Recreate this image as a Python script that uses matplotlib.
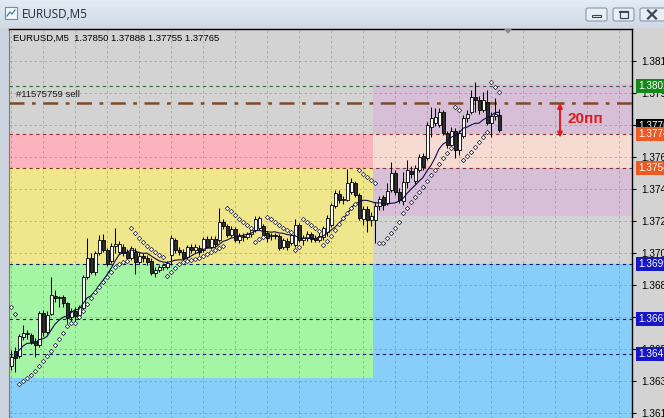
import numpy as np
import pandas as pd
import matplotlib
matplotlib.use("Agg")
import matplotlib.pyplot as plt
from matplotlib.patches import Rectangle, FancyBboxPatch, Polygon
from matplotlib.colors import LinearSegmentedColormap
from matplotlib import transforms

plt.rcParams['font.family'] = ['Liberation Sans', 'DejaVu Sans']

# ---------------------------------------------------------------- data
SYMBOL = "EURUSD,M5"
ORDER_TICKET = 11575759
ORDER_SIDE = "sell"

opens = [
    1.36401, 1.36488, 1.36459, 1.36569, 1.36587, 1.36581, 1.36546, 1.36523, 1.36708, 1.36598,
    1.36702, 1.36806, 1.36795, 1.36800, 1.36766, 1.36684, 1.36719, 1.36696, 1.36737, 1.36916,
    1.37026, 1.36944, 1.37055, 1.37130, 1.37072, 1.37008, 1.37095, 1.37060, 1.37089, 1.37060,
    1.37026, 1.37060, 1.37002, 1.37037, 1.37026, 1.37008, 1.36939, 1.36956, 1.36973, 1.36973,
    1.37043, 1.37130, 1.37072, 1.37060, 1.37031, 1.37089, 1.37072, 1.37084, 1.37072, 1.37136,
    1.37089, 1.37136, 1.37130, 1.37233, 1.37211, 1.37159, 1.37194, 1.37130, 1.37153, 1.37147,
    1.37165, 1.37188, 1.37200, 1.37211, 1.37170, 1.37153, 1.37159, 1.37153, 1.37089, 1.37124,
    1.37113, 1.37101, 1.37217, 1.37130, 1.37142, 1.37165, 1.37142, 1.37130, 1.37147, 1.37176,
    1.37217, 1.37326, 1.37396, 1.37361, 1.37361, 1.37407, 1.37459, 1.37390, 1.37251, 1.37309,
    1.37245, 1.37245, 1.37326, 1.37378, 1.37344, 1.37419, 1.37517, 1.37407, 1.37355, 1.37465,
    1.37529, 1.37471, 1.37534, 1.37615, 1.37604, 1.37783, 1.37806, 1.37795, 1.37870, 1.37748,
    1.37679, 1.37760, 1.37650, 1.37731, 1.37835, 1.37870, 1.37956, 1.37939, 1.37881, 1.37927,
    1.37806, 1.37846, 1.37850,
]
highs = [
    1.36494, 1.36511, 1.36587, 1.36639, 1.36610, 1.36593, 1.36564, 1.36719, 1.36725, 1.36719,
    1.36916, 1.36841, 1.36806, 1.36812, 1.36771, 1.36737, 1.36742, 1.36754, 1.36928, 1.37142,
    1.37055, 1.37066, 1.37159, 1.37165, 1.37084, 1.37113, 1.37200, 1.37124, 1.37107, 1.37078,
    1.37095, 1.37084, 1.37060, 1.37055, 1.37043, 1.37026, 1.36973, 1.36985, 1.36997, 1.37008,
    1.37159, 1.37142, 1.37089, 1.37078, 1.37101, 1.37107, 1.37107, 1.37101, 1.37147, 1.37153,
    1.37153, 1.37153, 1.37315, 1.37251, 1.37222, 1.37211, 1.37205, 1.37170, 1.37170, 1.37176,
    1.37205, 1.37268, 1.37268, 1.37222, 1.37182, 1.37170, 1.37170, 1.37165, 1.37142, 1.37142,
    1.37170, 1.37251, 1.37228, 1.37159, 1.37182, 1.37176, 1.37159, 1.37170, 1.37211, 1.37274,
    1.37344, 1.37419, 1.37419, 1.37384, 1.37540, 1.37488, 1.37471, 1.37402, 1.37326, 1.37326,
    1.37292, 1.37349, 1.37384, 1.37390, 1.37459, 1.37581, 1.37534, 1.37430, 1.37523, 1.37592,
    1.37557, 1.37563, 1.37627, 1.37633, 1.37812, 1.37899, 1.37893, 1.37893, 1.37881, 1.37760,
    1.37783, 1.37777, 1.37766, 1.37852, 1.37881, 1.37997, 1.38043, 1.37962, 1.37985, 1.37997,
    1.37870, 1.37951, 1.37888,
]
lows = [
    1.36378, 1.36366, 1.36448, 1.36552, 1.36558, 1.36529, 1.36453, 1.36511, 1.36575, 1.36587,
    1.36696, 1.36771, 1.36742, 1.36742, 1.36650, 1.36650, 1.36655, 1.36684, 1.36731, 1.36905,
    1.36933, 1.36928, 1.37043, 1.37060, 1.36979, 1.36997, 1.37055, 1.37049, 1.37037, 1.37014,
    1.37014, 1.36933, 1.36991, 1.37002, 1.36985, 1.36928, 1.36916, 1.36944, 1.36956, 1.36962,
    1.36985, 1.37055, 1.37043, 1.37014, 1.37020, 1.37055, 1.37055, 1.37043, 1.37060, 1.37084,
    1.37078, 1.37089, 1.37118, 1.37194, 1.37147, 1.37147, 1.37118, 1.37113, 1.37124, 1.37136,
    1.37147, 1.37176, 1.37188, 1.37147, 1.37118, 1.37130, 1.37136, 1.37072, 1.37078, 1.37072,
    1.37101, 1.37089, 1.37118, 1.37101, 1.37124, 1.37118, 1.37118, 1.37118, 1.37130, 1.37153,
    1.37205, 1.37315, 1.37344, 1.37338, 1.37355, 1.37396, 1.37378, 1.37245, 1.37217, 1.37176,
    1.37211, 1.37113, 1.37303, 1.37303, 1.37332, 1.37407, 1.37390, 1.37344, 1.37332, 1.37430,
    1.37488, 1.37454, 1.37523, 1.37534, 1.37592, 1.37725, 1.37789, 1.37783, 1.37737, 1.37662,
    1.37667, 1.37604, 1.37621, 1.37719, 1.37812, 1.37858, 1.37870, 1.37858, 1.37870, 1.37795,
    1.37725, 1.37823, 1.37755,
]
closes = [
    1.36453, 1.36448, 1.36575, 1.36593, 1.36593, 1.36540, 1.36523, 1.36708, 1.36598, 1.36696,
    1.36812, 1.36795, 1.36800, 1.36766, 1.36679, 1.36719, 1.36690, 1.36742, 1.36916, 1.37026,
    1.36944, 1.37055, 1.37130, 1.37072, 1.36991, 1.37095, 1.37107, 1.37107, 1.37055, 1.37026,
    1.37084, 1.37002, 1.37037, 1.37026, 1.37002, 1.36939, 1.36956, 1.36973, 1.36985, 1.36997,
    1.37142, 1.37072, 1.37060, 1.37026, 1.37089, 1.37072, 1.37089, 1.37060, 1.37136, 1.37089,
    1.37136, 1.37107, 1.37233, 1.37211, 1.37159, 1.37194, 1.37130, 1.37153, 1.37147, 1.37165,
    1.37188, 1.37251, 1.37257, 1.37159, 1.37142, 1.37159, 1.37153, 1.37084, 1.37130, 1.37089,
    1.37159, 1.37217, 1.37130, 1.37142, 1.37165, 1.37136, 1.37130, 1.37153, 1.37200, 1.37257,
    1.37332, 1.37402, 1.37361, 1.37367, 1.37459, 1.37465, 1.37390, 1.37257, 1.37309, 1.37245,
    1.37268, 1.37326, 1.37367, 1.37332, 1.37413, 1.37517, 1.37407, 1.37361, 1.37465, 1.37534,
    1.37511, 1.37546, 1.37610, 1.37552, 1.37795, 1.37835, 1.37841, 1.37870, 1.37748, 1.37679,
    1.37760, 1.37650, 1.37748, 1.37835, 1.37858, 1.37956, 1.37939, 1.37881, 1.37939, 1.37806,
    1.37846, 1.37858, 1.37765,
]

# Parabolic SAR dots, one per bar
sar_values = [
    1.36742, 1.36702, 1.36298, 1.36315, 1.36333, 1.36350, 1.36372, 1.36401, 1.36430, 1.36459,
    1.36488, 1.36523, 1.36558, 1.36593, 1.36633, 1.36650, 1.36650, 1.36684, 1.36719, 1.36760,
    1.36795, 1.36829, 1.36858, 1.36887, 1.36916, 1.36944, 1.36973, 1.36991, 1.37002, 1.37008,
    1.37200, 1.37170, 1.37142, 1.37118, 1.37095, 1.37078, 1.37060, 1.37043, 1.37031, 1.36922,
    1.36944, 1.36967, 1.36991, 1.37002, 1.37008, 1.37014, 1.37020, 1.37026, 1.37037, 1.37049,
    1.37060, 1.37072, 1.37084, 1.37095, 1.37315, 1.37297, 1.37274, 1.37251, 1.37233, 1.37217,
    1.37200, 1.37118, 1.37136, 1.37147, 1.37262, 1.37251, 1.37233, 1.37217, 1.37200, 1.37188,
    1.37176, 1.37072, 1.37089, 1.37251, 1.37233, 1.37217, 1.37200, 1.37182, 1.37101, 1.37124,
    1.37153, 1.37188, 1.37222, 1.37257, 1.37286, 1.37315, 1.37338, 1.37534, 1.37511, 1.37494,
    1.37477, 1.37459, 1.37113, 1.37113, 1.37142, 1.37170, 1.37200, 1.37233, 1.37286, 1.37315,
    1.37349, 1.37378, 1.37407, 1.37436, 1.37471, 1.37506, 1.37534, 1.37569, 1.37604, 1.37633,
    1.37662, 1.37899, 1.37881, 1.37592, 1.37615, 1.37638, 1.37667, 1.37696, 1.37725, 1.37754,
    1.38043, 1.38014, 1.37985,
]

MA_PERIOD = 10

# price scale ticks
price_ticks = [1.36130, 1.36315, 1.36500, 1.36685, 1.36870, 1.37055,
               1.37240, 1.37425, 1.37610, 1.37795, 1.37980, 1.38165]

# horizontal levels
tp_level = 1.38020
order_price = 1.37922
red_levels = [1.37740, 1.37546]
blue_levels = [1.36991, 1.36676, 1.36471]
pips_span = 0.0020
pips_label = "20пп"

# zone boxes (price bounds)
zone_split = 90.5
purple_zone = (1.37269, 1.38031)
green_bottom = 1.36332

o = np.array(opens); h = np.array(highs); l = np.array(lows); c = np.array(closes)
idx = np.arange(len(c))
ma = pd.Series(c).rolling(MA_PERIOD, min_periods=1).mean().values

# ---------------------------------------------------------------- figure
W, H = 664, 418
TOP = 29
fig = plt.figure(figsize=(W / 100, H / 100), dpi=100)
fig.patch.set_facecolor('#d3d3d3')

# window caption bar
tb = fig.add_axes([0, 1 - 28 / H, 1, 28 / H])
cap_cmap = LinearSegmentedColormap.from_list('cap', ['#e3ebf4', '#cfdae6'])
tb.imshow(np.linspace(0, 1, 28)[:, None], aspect='auto', cmap=cap_cmap,
          extent=[0, W, 28, 0])
tb.set_xlim(0, W); tb.set_ylim(28, 0); tb.axis('off')
tb.add_patch(Rectangle((5, 7), 12, 12, fc='#f4f8fc', ec='#6a8bb0', lw=0.8))
tb.plot([7, 10, 12, 15], [16, 12, 14, 10], color='#3a7ac0', lw=0.9)
tb.text(22, 14.5, SYMBOL, fontsize=8.5, color='#1e2a38', va='center',
        family=['Open Sans', 'DejaVu Sans'])
for x0, w in [(586, 21), (613, 21), (640, 30)]:
    tb.add_patch(FancyBboxPatch((x0, 8), w, 13, boxstyle='round,pad=0,rounding_size=2',
                                fc='#e9eef4', ec='#8797aa', lw=0.8))
tb.add_patch(Rectangle((592, 15), 9, 2.2, fc='none', ec='#3c4858', lw=0.8))
tb.add_patch(Rectangle((620, 10.5), 8, 7.5, fc='none', ec='#3c4858', lw=0.9))
tb.plot([620, 628], [11.5, 11.5], color='#3c4858', lw=1.4)
tb.plot([648, 656], [10.5, 18.5], color='#3c4858', lw=1.6)
tb.plot([648, 656], [18.5, 10.5], color='#3c4858', lw=1.6)

# left window frame
frame = fig.add_axes([0, 0, 8 / W, (H - 28) / H])
frame.set_facecolor('#cbd4de'); frame.set_xticks([]); frame.set_yticks([])
for s in frame.spines.values():
    s.set_visible(False)

# main chart
ax = fig.add_axes([9 / W, 0, (632 - 9) / W, (H - TOP) / H])
PX = 0.0000578                       # price units per pixel on this chart
ax.set_xlim(-0.5, -0.5 + (632 - 9) / 4)
ax.set_ylim(price_ticks[0] - (H - 413) * PX, price_ticks[0] + (413 - TOP) * PX)
ax.set_facecolor('#d3d3d3')
xr = ax.get_xlim()[1] + 5
yb = ax.get_ylim()[0] - 0.001

def box(x0, x1, y0, y1, col):
    ax.add_patch(Rectangle((x0, y0), x1 - x0, y1 - y0, fc=col, ec='none', zorder=0))

box(-1, xr, yb, blue_levels[0], '#87cefa')
box(-1, zone_split, green_bottom, blue_levels[0], '#a4f5a4')
box(-1, zone_split, red_levels[1], blue_levels[0], '#f0e68c')
box(-1, zone_split, red_levels[1], red_levels[0], '#fdb3bd')
box(zone_split, xr, purple_zone[0], purple_zone[1], '#d8bfd8')
box(zone_split, xr, red_levels[1], red_levels[0], '#f6dbd2')

# grid
for p in price_ticks:
    ax.axhline(p, color='#555555', alpha=0.35, lw=0.6, dashes=(3, 3), zorder=1)
for k in range(0, 20):
    ax.axvline(8 * k, color='#555555', alpha=0.35, lw=0.6, dashes=(3, 3), zorder=1)

# level lines
ax.axhline(tp_level, color='#2f6a3a', lw=0.8, dashes=(3, 3), zorder=2)
for p in red_levels:
    ax.axhline(p, color='#8a3030', lw=0.8, dashes=(3, 3), zorder=2)
for p in blue_levels:
    ax.axhline(p, color='#14145a', lw=0.8, dashes=(3, 3), zorder=2)
ax.axhline(order_price, color='#7d4b2a', lw=1.8, dashes=(6, 3, 1.5, 3), zorder=3)
ax.annotate(f"#{ORDER_TICKET} {ORDER_SIDE}", xy=(1.25, order_price),
            xytext=(0, 2.5), textcoords='offset points', fontsize=6.8,
            color='#1a1a1a', va='bottom', ha='left', zorder=4)

# candles
up = c >= o
ax.vlines(idx, l, h, color='black', lw=0.75, zorder=5)
blo = np.minimum(o, c)
bh = np.maximum(np.abs(c - o), 0.000012)
ax.bar(idx[up], bh[up], bottom=blo[up], width=0.75, color='white',
       edgecolor='black', linewidth=0.6, zorder=6)
ax.bar(idx[~up], bh[~up], bottom=blo[~up], width=0.75, color='#2e2e2e',
       edgecolor='black', linewidth=0.6, zorder=6)

# indicators
ax.plot(idx, ma, color='#0c0c4a', lw=0.8, zorder=7)
ax.scatter(idx, sar_values, marker='D', s=5, facecolor='white', edgecolor='#1c1c3c',
           linewidths=0.5, zorder=8)

# pip distance marker
ax.annotate('', xy=(137.25, order_price - pips_span), xytext=(137.25, order_price),
            arrowprops=dict(arrowstyle='<|-|>', color='#e81818', lw=1.4,
                            mutation_scale=7, shrinkA=0, shrinkB=0), zorder=9)
ax.text(139, order_price - pips_span / 2 + 0.00006, pips_label, color='#e81818',
        fontsize=11, fontweight='bold', va='center', ha='left', zorder=9)

# axes frame and price scale
ax.spines['bottom'].set_visible(False)
ax.spines['top'].set_color('black'); ax.spines['top'].set_linewidth(1.0)
ax.spines['right'].set_color('black'); ax.spines['right'].set_linewidth(1.0)
ax.spines['left'].set_color('#7a7a7a'); ax.spines['left'].set_linewidth(0.8)
ax.set_xticks([])
ax.yaxis.tick_right()
ax.set_yticks(price_ticks)
ax.set_yticklabels([f"{p:.5f}" for p in price_ticks])
ax.tick_params(axis='y', length=3, width=0.8, pad=3.5, labelsize=7.2, colors='black')

trans = transforms.blended_transform_factory(ax.transAxes, ax.transData)

def price_tag(p, col, z=10, lift=0.0):
    ax.annotate(f"{p:.5f}", xy=(1.0, p), xycoords=trans,
                xytext=(4.2, lift), textcoords='offset points',
                fontsize=7.2, color='white', va='center', ha='left',
                annotation_clip=False, zorder=z,
                bbox=dict(boxstyle='square,pad=0.2', fc=col, ec='none'))

price_tag(tp_level, '#138a18')
price_tag(c[-1], '#000000', 10, lift=3.0)
for p in red_levels:
    price_tag(p, '#ef5a24', 11)
for p in blue_levels:
    price_tag(p, '#1717c8')

# header line inside the chart
fig.text(13 / W, 1 - 38 / H,
         f"{SYMBOL}  {o[-1]:.5f} {h[-1]:.5f} {l[-1]:.5f} {c[-1]:.5f}",
         fontsize=6.8, color='black', va='center', ha='left')

# chart shift marker
fig.patches.append(Polygon([[504 / W, 1 - TOP / H], [512 / W, 1 - TOP / H],
                            [508 / W, 1 - 34 / H]], closed=True,
                           transform=fig.transFigure, fc='#8c8c8c', ec='none'))

fig.savefig('out.png', dpi=100)
